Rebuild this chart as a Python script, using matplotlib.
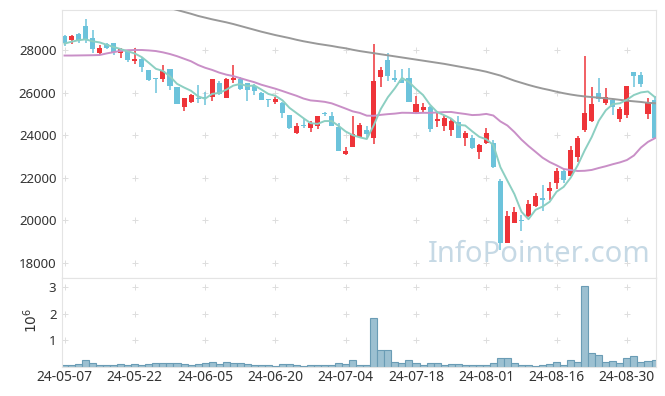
import matplotlib
matplotlib.use("Agg")
import matplotlib.pyplot as plt
import numpy as np
import pandas as pd

plt.rcParams["font.family"] = ["Noto Sans", "DejaVu Sans"]

# every 10th trading day gets a label
tick_labels = ["24-05-07", "24-05-22", "24-06-05", "24-06-20", "24-07-04",
               "24-07-18", "24-08-01", "24-08-16", "24-08-30"]

opens = [28650, 28450, 28750, 29130, 28560, 27880, 28270, 28310, 27880, 28000,
         27480, 27560, 27060, 26700, 26640, 27110, 26280, 25340, 25540, 25760,
         25810, 25810, 26440, 25760, 26590, 26640, 26440, 26310, 25970, 25700,
         25570, 25500, 24950, 24090, 24480, 24350, 24450, 25030, 24900, 24400,
         23100, 23460, 23930, 24240, 23880, 26750, 27530, 26690, 26590, 26690,
         25090, 25180, 25340, 24680, 24430, 24240, 24640, 23880, 23880, 23230,
         23620, 23620, 21850, 18950, 19890, 20020, 20210, 20680, 21040, 21380,
         21770, 22340, 22100, 22990, 24240, 24680, 25970, 25530, 25650, 24750,
         24950, 26950, 26830, 24980, 25650]
highs = [28690, 28690, 28780, 29440, 28940, 28220, 28340, 28340, 28080, 28000,
         28080, 27610, 27060, 26700, 27280, 27110, 26280, 25730, 25930, 26340,
         26030, 26650, 26530, 26700, 27280, 26750, 26470, 26400, 26040, 25700,
         25810, 25540, 24950, 24560, 24750, 24670, 24900, 25110, 25070, 24560,
         23450, 24920, 24560, 24450, 28270, 27220, 27840, 27060, 27090, 27170,
         25860, 25500, 25370, 25110, 24950, 24790, 24900, 24200, 24010, 23570,
         24320, 23770, 21930, 20460, 20640, 20240, 20960, 21270, 21660, 21820,
         22440, 22400, 23510, 23960, 27720, 26250, 26670, 26200, 25680, 25340,
         26310, 26950, 26980, 25760, 25860]
lows = [28190, 28280, 28310, 28340, 27840, 27780, 28030, 27770, 27610, 27420,
        27340, 26980, 26560, 25970, 26510, 26120, 25450, 25140, 25510, 25500,
        25420, 25620, 25890, 25760, 26440, 26120, 25620, 25890, 25650, 25310,
        25450, 24790, 24290, 24060, 24350, 24130, 24280, 24900, 24430, 23270,
        23050, 23430, 23900, 23870, 23570, 26280, 26530, 26510, 26440, 25570,
        25030, 25060, 24130, 24400, 24210, 23960, 23880, 23510, 23340, 22900,
        23570, 22440, 18610, 18950, 19860, 19490, 20180, 20640, 20460, 20960,
        21460, 21740, 22100, 22760, 24170, 24640, 25540, 25420, 24950, 24640,
        24790, 26280, 26280, 24750, 23880]
closes = [28350, 28650, 28450, 28530, 28060, 28090, 28090, 27920, 28050, 27530,
          27590, 27220, 26590, 26650, 27030, 26310, 25480, 25730, 25870, 25720,
          25760, 26620, 25950, 26620, 26690, 26150, 26120, 26090, 25670, 25650,
          25720, 25060, 24320, 24450, 24430, 24560, 24900, 24980, 24450, 23270,
          23260, 24040, 24480, 24060, 26540, 27060, 26780, 26590, 26470, 25570,
          25460, 25340, 24290, 24780, 24820, 24670, 23880, 24120, 23410, 23540,
          24090, 22520, 18950, 20210, 20390, 19960, 20770, 21150, 20960, 21510,
          22340, 21900, 23310, 23870, 25030, 25470, 25700, 25780, 25310, 25230,
          26310, 26800, 26390, 25530, 23880]
# volume in millions of shares
volume_m = [0.06, 0.06, 0.10, 0.25, 0.14, 0.06, 0.06, 0.06, 0.10, 0.06,
            0.10, 0.06, 0.10, 0.14, 0.14, 0.14, 0.14, 0.10, 0.06, 0.10,
            0.14, 0.18, 0.10, 0.18, 0.14, 0.14, 0.10, 0.06, 0.06, 0.06,
            0.03, 0.10, 0.10, 0.06, 0.03, 0.06, 0.06, 0.06, 0.06, 0.14,
            0.10, 0.26, 0.06, 0.06, 1.83, 0.64, 0.64, 0.18, 0.14, 0.26,
            0.14, 0.06, 0.14, 0.14, 0.06, 0.10, 0.10, 0.06, 0.06, 0.06,
            0.06, 0.14, 0.33, 0.33, 0.14, 0.06, 0.06, 0.03, 0.06, 0.10,
            0.18, 0.06, 0.26, 0.18, 3.04, 0.51, 0.44, 0.18, 0.21, 0.14,
            0.33, 0.40, 0.18, 0.21, 0.25]

# moving-average values before the window fills (need earlier history)
ma5_lead = [28300, 28390, 28460, 28500]
ma20_lead = [27740, 27740, 27745, 27750, 27755, 27765, 27840, 27900, 27960, 27990,
             28000, 28000, 27980, 27950, 27890, 27810, 27710, 27590, 27470]
# long moving average (starts above the visible range)
ma_long = [np.nan] * 14 + [
    30050, 29970, 29880, 29790, 29700, 29600, 29520, 29440, 29370, 29300,
    29220, 29130, 29040, 28950, 28860, 28780, 28700, 28630, 28560, 28480,
    28410, 28350, 28290, 28240, 28190, 28130, 28080, 28010, 27950, 27900,
    27850, 27800, 27750, 27700, 27650, 27600, 27550, 27500, 27450, 27400,
    27350, 27290, 27230, 27170, 27110, 27050, 26980, 26890, 26800, 26680,
    26560, 26460, 26360, 26270, 26190, 26120, 26040, 25970, 25910, 25860,
    25820, 25790, 25760, 25730, 25700, 25660, 25620, 25590, 25560, 25520,
    25500]

UP = "#ee3439"
DOWN = "#6cc3db"
SPINE = "#e4e4e4"

o = np.array(opens, float)
h = np.array(highs, float)
l = np.array(lows, float)
c = np.array(closes, float)
x = np.arange(len(c))

ma5 = pd.Series(c).rolling(5).mean().to_numpy()
ma5[:len(ma5_lead)] = ma5_lead
ma20 = pd.Series(c).rolling(20).mean().to_numpy()
ma20[:len(ma20_lead)] = ma20_lead

W, H = 665, 396
fig = plt.figure(figsize=(W / 100, H / 100), dpi=100)
ax = fig.add_axes([62 / W, 1 - 278 / H, 594 / W, 268 / H])
axv = fig.add_axes([62 / W, 1 - 367 / H, 594 / W, 89 / H], sharex=ax)

colors = np.where(c >= o, UP, DOWN)
ax.vlines(x, l, h, colors=colors, lw=1.1, zorder=2)
body = np.maximum(np.abs(c - o), 40)
ax.bar(x, body, bottom=np.minimum(o, c), width=0.72, color=colors, zorder=2)

ax.plot(x, ma_long, color="#999999", lw=1.4, zorder=3)
ax.plot(x, ma20, color="#c98fc7", lw=1.4, zorder=3)
ax.plot(x, ma5, color="#8ccfc2", lw=1.4, zorder=3)

xticks = np.arange(0, len(c), 10)
yticks = np.arange(18000, 28001, 2000)
ax.set_xlim(-0.36, 84.14)
ax.set_ylim(17295, 29878)
ax.set_yticks(yticks)
ax.set_xticks(xticks)
ax.tick_params(length=0, labelsize=9.5, colors="#333333", pad=4,
               labelbottom=False)
gx, gy = np.meshgrid(xticks, yticks)
ax.plot(gx.ravel(), gy.ravel(), "+", ms=4, mew=0.7, color="#dddddd", zorder=0)

ax.text(539 / W, 1 - 255 / H, "InfoPointer.com", transform=fig.transFigure,
        fontsize=21, color="#c6d9e5", ha="center", va="center", zorder=1)

axv.bar(x, volume_m, width=1.0, color="#9cc0d1", edgecolor="#6a9cb5",
        lw=0.8, zorder=2)
axv.set_ylim(0, 3.33)
vticks = [1, 2, 3]
axv.set_yticks(vticks)
axv.set_xticks(xticks)
axv.set_xticklabels(tick_labels)
axv.tick_params(length=0, labelsize=9.5, colors="#333333", pad=4)
axv.tick_params(axis="x", labelsize=10, pad=2)
vx, vy = np.meshgrid(xticks, vticks)
axv.plot(vx.ravel(), vy.ravel(), "+", ms=4, mew=0.7, color="#dddddd", zorder=0)
fig.text(32 / W, 1 - 320 / H, r"$10^6$", rotation=90, fontsize=10,
         color="#333333", ha="center", va="center")

for a in (ax, axv):
    for s in a.spines.values():
        s.set_color(SPINE)

fig.savefig("out.png", dpi=100)
